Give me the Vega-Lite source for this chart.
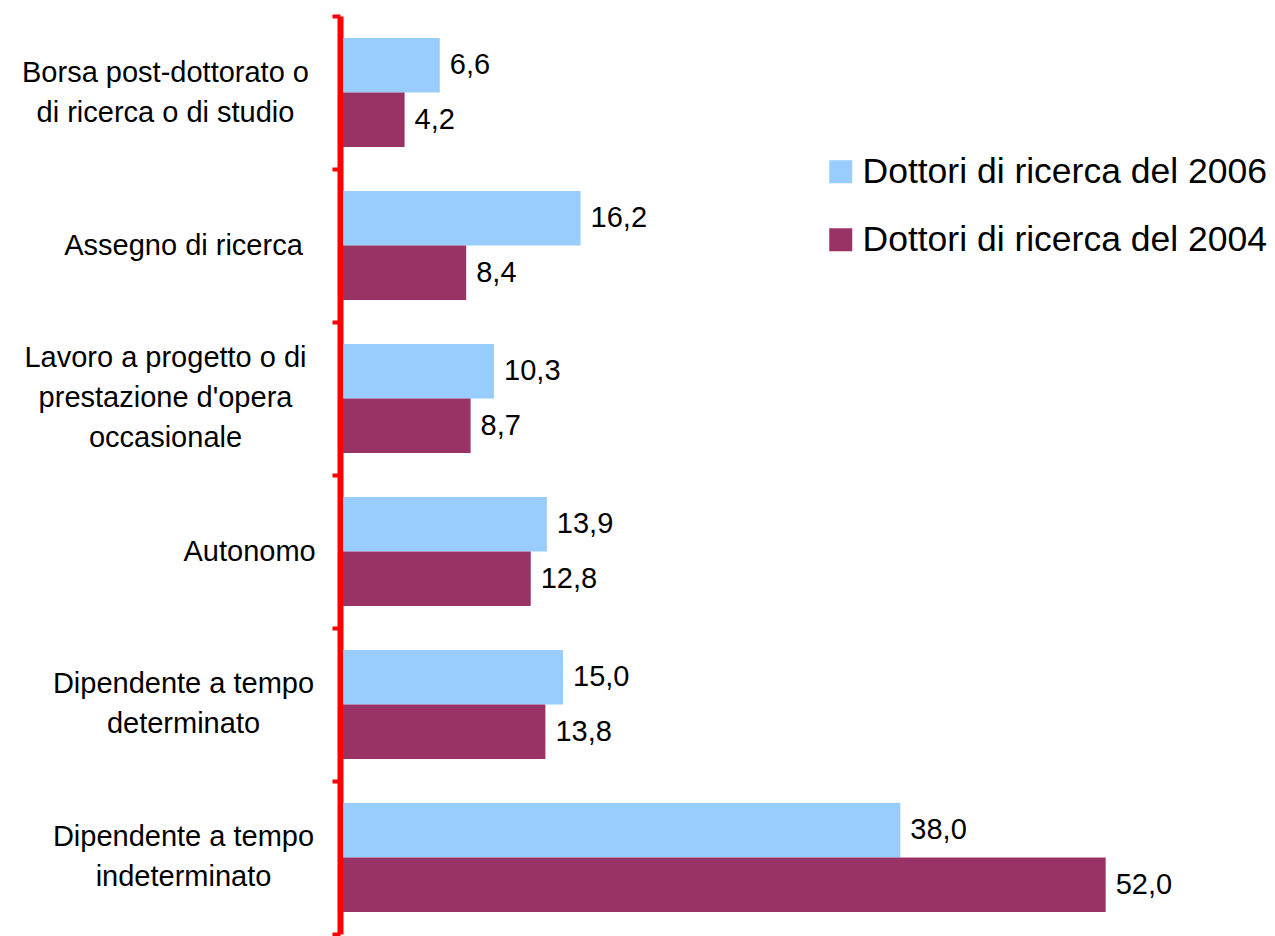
{
  "$schema": "https://vega.github.io/schema/vega-lite/v6.json",
  "autosize": "none",
  "width": 880,
  "height": 918,
  "padding": {"left": 343, "top": 16, "right": 52, "bottom": 2},
  "background": "white",
  "config": {
    "view": {"stroke": null},
    "font": "Liberation Sans",
    "locale": {"number": {"decimal": ",", "thousands": ".", "grouping": [3], "currency": ["€", ""]}}
  },
  "data": {
    "values": [
      {"categoria": "Borsa post-dottorato o\ndi ricerca o di studio", "serie": "Dottori di ricerca del 2006", "valore": 6.6},
      {"categoria": "Borsa post-dottorato o\ndi ricerca o di studio", "serie": "Dottori di ricerca del 2004", "valore": 4.2},
      {"categoria": "Assegno di ricerca", "serie": "Dottori di ricerca del 2006", "valore": 16.2},
      {"categoria": "Assegno di ricerca", "serie": "Dottori di ricerca del 2004", "valore": 8.4},
      {"categoria": "Lavoro a progetto o di\nprestazione d'opera\noccasionale", "serie": "Dottori di ricerca del 2006", "valore": 10.3},
      {"categoria": "Lavoro a progetto o di\nprestazione d'opera\noccasionale", "serie": "Dottori di ricerca del 2004", "valore": 8.7},
      {"categoria": "Autonomo", "serie": "Dottori di ricerca del 2006", "valore": 13.9},
      {"categoria": "Autonomo", "serie": "Dottori di ricerca del 2004", "valore": 12.8},
      {"categoria": "Dipendente a tempo\ndeterminato", "serie": "Dottori di ricerca del 2006", "valore": 15.0},
      {"categoria": "Dipendente a tempo\ndeterminato", "serie": "Dottori di ricerca del 2004", "valore": 13.8},
      {"categoria": "Dipendente a tempo\nindeterminato", "serie": "Dottori di ricerca del 2006", "valore": 38.0},
      {"categoria": "Dipendente a tempo\nindeterminato", "serie": "Dottori di ricerca del 2004", "valore": 52.0}
    ]
  },
  "resolve": {"axis": {"y": "independent"}},
  "layer": [
    {
      "mark": {"type": "bar"},
      "encoding": {
        "y": {
          "field": "categoria",
          "type": "nominal",
          "sort": null,
          "scale": {"paddingInner": 0, "paddingOuter": 0},
          "axis": {
            "orient": "left",
            "title": null,
            "offset": 3,
            "domainColor": "#FF0000",
            "domainWidth": 6,
            "tickColor": "#FF0000",
            "tickWidth": 4,
            "tickSize": 8,
            "tickBand": "extent",
            "labelExpr": "test(/^(Borsa|Lavoro)/, datum.label) ? '' : split(datum.label, '\\n')",
            "labelFont": "Liberation Sans",
            "labelFontSize": 29,
            "labelColor": "black",
            "labelLineHeight": 40,
            "labelLimit": 0,
            "labelPadding": 149,
            "labelOffset": 0,
            "labelAlign": {"condition": {"test": "datum.value === 'Autonomo'", "value": "left"}, "value": "center"},
            "labelBaseline": {"condition": {"test": "test(/^Dipendente/, datum.value)", "value": "line-bottom"}, "value": "middle"}
          }
        },
        "yOffset": {"field": "serie", "type": "nominal", "sort": ["Dottori di ricerca del 2006", "Dottori di ricerca del 2004"], "scale": {"paddingInner": 0, "paddingOuter": 0.4037}},
        "x": {"field": "valore", "type": "quantitative", "scale": {"domain": [0, 60], "nice": false}, "axis": null},
        "color": {
          "field": "serie",
          "type": "nominal",
          "sort": ["Dottori di ricerca del 2006", "Dottori di ricerca del 2004"],
          "scale": {"domain": ["Dottori di ricerca del 2006", "Dottori di ricerca del 2004"], "range": ["#99CCFF", "#993366"]},
          "legend": {
            "title": null,
            "orient": "none",
            "legendX": 480,
            "legendY": 138,
            "padding": 0,
            "symbolType": "square",
            "symbolSize": 529,
            "symbolStrokeWidth": 0,
            "symbolOpacity": 1,
            "labelFont": "Liberation Sans",
            "labelFontSize": 35.5,
            "labelColor": "black",
            "labelOffset": 4,
            "labelLimit": 0,
            "rowPadding": 31
          }
        }
      }
    },
    {
      "mark": {"type": "text", "align": "left", "baseline": "middle", "dx": 10, "fontSize": 29, "font": "Liberation Sans", "color": "black"},
      "encoding": {
        "y": {
          "field": "categoria",
          "type": "nominal",
          "sort": null,
          "axis": {
            "orient": "left",
            "title": null,
            "offset": 3,
            "domainOpacity": 0,
            "tickOpacity": 0,
            "tickSize": 8,
            "tickBand": "extent",
            "labelExpr": "test(/^(Borsa|Lavoro)/, datum.label) ? split(datum.label, '\\n') : ''",
            "labelFont": "Liberation Sans",
            "labelFontSize": 29,
            "labelColor": "black",
            "labelLineHeight": 40,
            "labelLimit": 0,
            "labelPadding": 167,
            "labelOffset": -20,
            "labelAlign": "center",
            "labelBaseline": {"condition": {"test": "test(/^Lavoro/, datum.value)", "value": "line-bottom"}, "value": "middle"}
          }
        },
        "yOffset": {"field": "serie", "type": "nominal", "sort": ["Dottori di ricerca del 2006", "Dottori di ricerca del 2004"]},
        "x": {"field": "valore", "type": "quantitative"},
        "text": {"field": "valore", "type": "quantitative", "format": ".1f"}
      }
    }
  ]
}
